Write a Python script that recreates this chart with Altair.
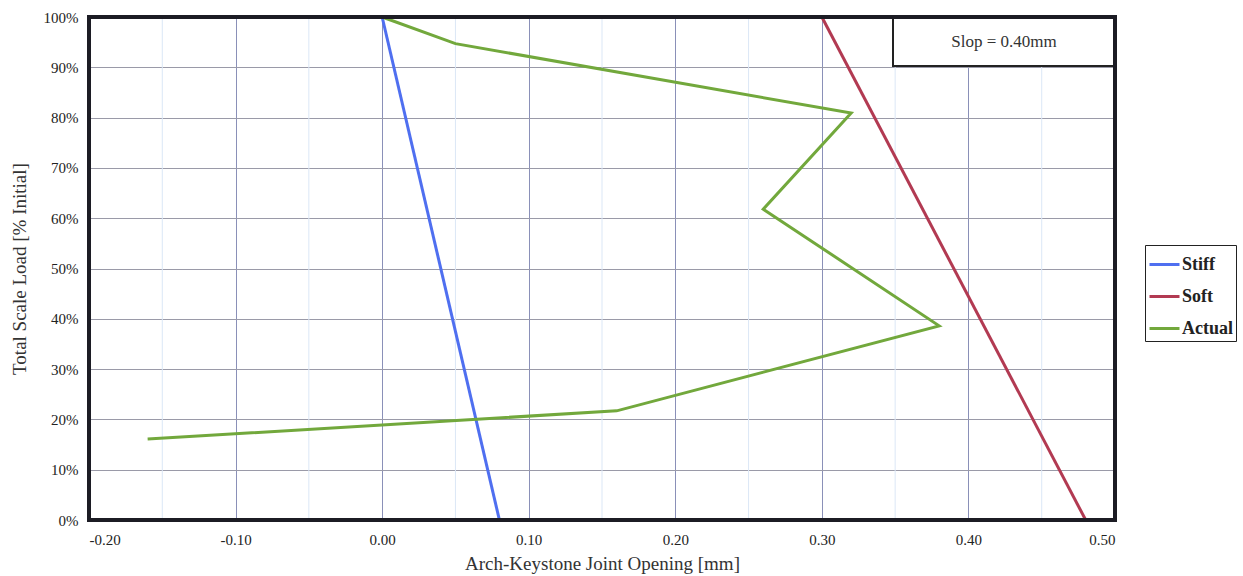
import altair as alt
import pandas as pd

# Load / joint-opening curves
stiff_x = [0.00, 0.08]
stiff_y = [100, 0]
soft_x = [0.30, 0.48]
soft_y = [100, 0]
actual_x = [0.00, 0.05, 0.32, 0.26, 0.38, 0.16, -0.16]
actual_y = [100, 94.7, 80.9, 61.8, 38.6, 21.7, 16.1]

series_names = ["Stiff", "Soft", "Actual"]
series_colors = ["#4f6ff0", "#b23a52", "#72a83c"]

x_major = [-0.2, -0.1, 0.0, 0.1, 0.2, 0.3, 0.4, 0.5]
x_minor = [-0.15, -0.05, 0.05, 0.15, 0.25, 0.35, 0.45]
y_ticks = [0, 10, 20, 30, 40, 50, 60, 70, 80, 90, 100]

slop_label = "Slop = 0.40mm"

rows = []
for name, xs, ys in [("Stiff", stiff_x, stiff_y), ("Soft", soft_x, soft_y), ("Actual", actual_x, actual_y)]:
    for i, (xv, yv) in enumerate(zip(xs, ys)):
        rows.append({"series": name, "x": xv, "y": yv, "idx": i})
df = pd.DataFrame(rows)

FONT = "Liberation Serif"
W, H = 1026, 503

xscale = alt.Scale(domain=[-0.2, 0.5], nice=False, zero=False)
yscale = alt.Scale(domain=[0, 100], nice=False)

minor = alt.Chart(pd.DataFrame({"x": x_minor})).mark_rule(
    color="#dbe7f6", strokeWidth=1
).encode(x=alt.X("x:Q", scale=xscale))

lines = alt.Chart(df).mark_line(strokeWidth=3).encode(
    x=alt.X(
        "x:Q",
        scale=xscale,
        axis=alt.Axis(
            values=x_major,
            labelExpr="replace(format(datum.value, '.2f'), '\u2212', '-')",
            title="Arch-Keystone Joint Opening [mm]",
            grid=True,
            gridColor="#8a90b8",
            gridWidth=1,
            ticks=False,
            domain=False,
            labelFont=FONT,
            labelFontSize=15,
            labelColor="#222",
            labelPadding=12,
            titleFont=FONT,
            titleFontSize=19,
            titleFontWeight="normal",
            titleColor="#333",
            titlePadding=7,
        ),
    ),
    y=alt.Y(
        "y:Q",
        scale=yscale,
        axis=alt.Axis(
            values=y_ticks,
            labelExpr="datum.value + '%'",
            title="Total Scale Load [% Initial]",
            grid=True,
            gridColor="#9a9aa8",
            gridWidth=1,
            ticks=False,
            domain=False,
            labelFont=FONT,
            labelFontSize=15,
            labelColor="#222",
            labelPadding=11,
            titleFont=FONT,
            titleFontSize=19,
            titleFontWeight="normal",
            titleColor="#333",
            titlePadding=14,
        ),
    ),
    color=alt.Color(
        "series:N",
        scale=alt.Scale(domain=series_names, range=series_colors),
        legend=alt.Legend(
            title=None,
            orient="none",
            legendX=1056,
            legendY=228,
            symbolType="stroke",
            symbolStrokeWidth=3,
            symbolSize=900,
            labelFont=FONT,
            labelFontSize=18,
            labelFontWeight="bold",
            labelColor="#222",
            labelOffset=1,
            rowPadding=6,
            strokeColor="#222",
            padding=3,
        ),
    ),
    order=alt.Order("idx:Q"),
)

box = alt.Chart(pd.DataFrame({"t": [slop_label]})).mark_rect(
    fill="white", stroke="#222", strokeWidth=2
).encode(
    x=alt.value(804), x2=alt.value(W), y=alt.value(0), y2=alt.value(49)
)

box_text = alt.Chart(pd.DataFrame({"t": [slop_label]})).mark_text(
    font=FONT, fontSize=17, color="#333", align="center", baseline="middle"
).encode(
    x=alt.value(915), y=alt.value(25), text="t:N"
)

# Heavy plot-area border
frame = alt.Chart(pd.DataFrame({"t": [0]})).mark_rect(
    fill="transparent", stroke="#1c1c24", strokeWidth=4
).encode(
    x=alt.value(0), x2=alt.value(W), y=alt.value(0), y2=alt.value(H)
)

chart = alt.layer(minor, lines, box, box_text, frame).properties(
    width=W,
    height=H,
    autosize=alt.AutoSizeParams(type="none"),
    padding={"left": 89, "top": 17, "right": 128, "bottom": 56},
    background="white",
).configure_view(strokeWidth=0)

chart.save("out.html", embed_options={"renderer": "svg", "actions": False})
